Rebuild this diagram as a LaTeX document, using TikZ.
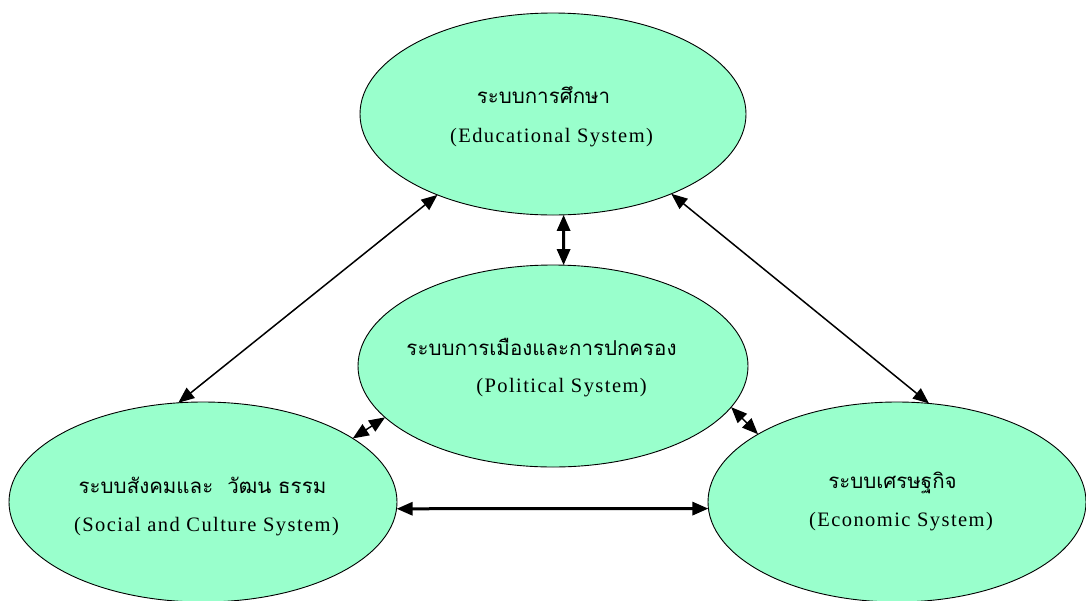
\documentclass[tikz,border=0pt]{standalone}
\usepackage{fontspec}
\setmainfont{Liberation Serif}
\newfontfamily\thaifont[Script=Thai]{Loma}
\newfontfamily\engfont[LetterSpace=7]{Liberation Serif}
\usetikzlibrary{shapes.geometric,arrows.meta}
\definecolor{mint}{RGB}{153,255,204}
\tikzset{
  sysbox/.style={ellipse,draw=black,line width=0.9pt,fill=mint,inner sep=0pt,outer sep=0pt},
  thaitxt/.style={anchor=base,inner sep=0pt,font=\thaifont\fontsize{20.5}{24}\selectfont},
  engtxt/.style={anchor=base,inner sep=0pt,font=\engfont\fontsize{20.5}{24}\selectfont},
  thinlink/.style={{Triangle[length=16pt,width=13pt]}-{Triangle[length=16pt,width=13pt]},line width=1.5pt},
  thicklink/.style={{Triangle[length=16pt,width=13pt]}-{Triangle[length=16pt,width=13pt]},line width=3pt}
}
\begin{document}
\begin{tikzpicture}[x=1pt,y=-1pt]
\useasboundingbox (0,0) rectangle (1086,600);
\node[sysbox,minimum width=386pt,minimum height=202pt] (edu) at (553,114) {};
\node[sysbox,minimum width=390pt,minimum height=202pt] (pol) at (553,366) {};
\node[sysbox,minimum width=388pt,minimum height=200pt] (soc) at (203,502) {};
\node[sysbox,minimum width=378pt,minimum height=200pt] (eco) at (897,502) {};

\node[thaitxt] (eduth) at (543.5,103) {ระบบการศึกษา};
\node[engtxt] (eduen) at (551.5,142) {(Educational System)};
\node[thaitxt] (polth) at (541.5,355) {ระบบการเมืองและการปกครอง};
\node[engtxt] (polen) at (561.5,392) {(Political System)};
\node[thaitxt] (socth) at (202.5,493) {ระบบสังคมและ\hspace{14pt}วัฒน ธรรม};
\node[engtxt] (socen) at (206.5,531) {(Social and Culture System)};
\node[thaitxt] (ecoth) at (892.5,488) {ระบบเศรษฐกิจ};
\node[engtxt] (ecoen) at (901,526) {(Economic System)};

\draw[thinlink] (edu.215) -- (soc.104.4);
\draw[thinlink] (edu.326) -- (eco.72.8);
\draw[thicklink] (edu.-84.4) -- (pol.84.4);
\draw[thinlink] (pol.197) -- (soc.23.7);
\draw[thinlink] (pol.-13) -- (eco.154.2);
\draw[thicklink] (soc.-2.07) -- (eco.182.12);
\end{tikzpicture}
\end{document}
